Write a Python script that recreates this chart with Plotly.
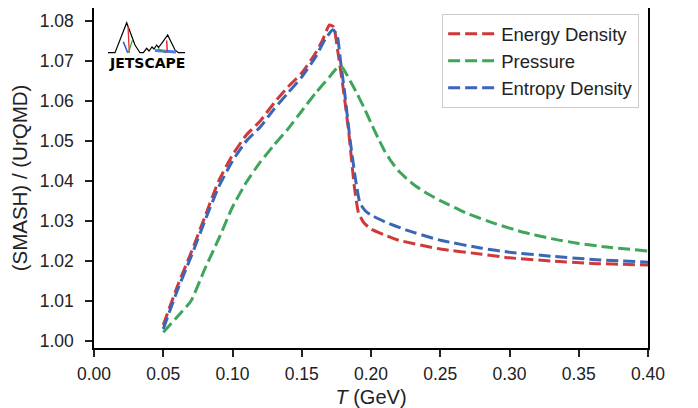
import plotly.graph_objects as go

# Ratio SMASH / UrQMD vs temperature
t_energy = [0.05, 0.06, 0.07, 0.08, 0.09, 0.10, 0.11, 0.12, 0.13, 0.14, 0.15, 0.16,
            0.165, 0.170, 0.173, 0.176, 0.180, 0.184, 0.188, 0.191, 0.195, 0.20,
            0.21, 0.22, 0.25, 0.28, 0.30, 0.33, 0.36, 0.40]
energy = [1.004, 1.0135, 1.022, 1.031, 1.040, 1.0465, 1.0515, 1.055, 1.0595, 1.0635,
          1.067, 1.072, 1.0752, 1.0790, 1.0785, 1.0725, 1.0630, 1.0520, 1.0385, 1.0320,
          1.0295, 1.028, 1.0265, 1.0252, 1.0230, 1.0217, 1.0208, 1.0200, 1.0194, 1.0190]

t_pressure = [0.05, 0.06, 0.07, 0.08, 0.09, 0.10, 0.11, 0.12, 0.13, 0.14, 0.15, 0.16,
              0.17, 0.176, 0.179, 0.185, 0.19, 0.195, 0.20, 0.205, 0.21, 0.215, 0.22,
              0.23, 0.24, 0.25, 0.27, 0.29, 0.31, 0.33, 0.35, 0.37, 0.40]
pressure = [1.0022, 1.006, 1.010, 1.018, 1.0255, 1.0335, 1.0397, 1.0447, 1.049, 1.053,
            1.0575, 1.062, 1.066, 1.0685, 1.0685, 1.065, 1.0618, 1.0583, 1.0545, 1.0508,
            1.0474, 1.0447, 1.0425, 1.0393, 1.0370, 1.0351, 1.0318, 1.0293, 1.0272,
            1.0256, 1.0244, 1.0235, 1.0225]

t_entropy = [0.05, 0.06, 0.07, 0.08, 0.09, 0.10, 0.11, 0.12, 0.13, 0.14, 0.15, 0.16,
             0.167, 0.1725, 0.1755, 0.178, 0.181, 0.185, 0.189, 0.192, 0.196, 0.20,
             0.21, 0.225, 0.25, 0.28, 0.30, 0.33, 0.36, 0.40]
entropy = [1.003, 1.0125, 1.021, 1.030, 1.0385, 1.045, 1.050, 1.0535, 1.058, 1.062,
           1.066, 1.071, 1.0755, 1.0778, 1.0765, 1.070, 1.062, 1.050, 1.040, 1.0345,
           1.0325, 1.0315, 1.0298, 1.0278, 1.0252, 1.0232, 1.0222, 1.0212, 1.0204, 1.0197]

x_ticks = [0.00, 0.05, 0.10, 0.15, 0.20, 0.25, 0.30, 0.35, 0.40]
y_ticks = [1.00, 1.01, 1.02, 1.03, 1.04, 1.05, 1.06, 1.07, 1.08]

RED = "#d0393b"
GREEN = "#3ea55a"
BLUE = "#3a66b8"
FONT = "Liberation Sans, Arial, sans-serif"

# figure size / plot area in pixels (page has an 8px body margin)
W, H = 690, 400
L, R, T, B = 86, 50, 0, 60
PW, PH = W - L - R, H - T - B
PAGE_OFF = 8


def to_paper(px, py):
    # page pixel -> paper coords
    fx, fy = px - PAGE_OFF, py - PAGE_OFF
    return (fx - L) / PW, (H - B - fy) / PH


def path_from(points):
    parts = []
    for i, (px, py) in enumerate(points):
        x, y = to_paper(px, py)
        parts.append(("M" if i == 0 else "L") + f"{x:.4f},{y:.4f}")
    return " ".join(parts)


fig = go.Figure()

series = [
    ("Energy Density", t_energy, energy, RED),
    ("Pressure", t_pressure, pressure, GREEN),
    ("Entropy Density", t_entropy, entropy, BLUE),
]
for name, xs, ys, color in series:
    fig.add_trace(go.Scatter(
        x=xs, y=ys, name=name, mode="lines", legendgroup=name,
        line=dict(color=color, width=3, dash="12px,5px", shape="spline", smoothing=0.5),
    ))

# JETSCAPE logo, drawn roughly
shapes = []
mountain = [(108, 52.7), (115, 52.7), (126.7, 22.7), (135, 45), (140, 52.7), (143.3, 52.7),
            (146.7, 48.3), (149, 51), (152, 47), (154, 49), (156.7, 45), (158.5, 47.5),
            (161.7, 43.3), (167.7, 35), (171.7, 43.3), (175, 50), (178.3, 52.7), (185, 52.7)]
shapes.append(dict(type="path", xref="paper", yref="paper", path=path_from(mountain),
                   line=dict(color="black", width=1.2)))
for pts, col, wd in [
    ([(128, 26), (129.3, 52.7)], "#e03030", 1.3),
    ([(123.3, 41.7), (127.7, 52.7)], "#3050e0", 1.5),
    ([(132.7, 39.3), (128.5, 52.7)], "#30a030", 1.2),
    ([(155, 50.5), (176, 52)], "#5078f0", 3),
    ([(158, 48.5), (166, 53)], "#30a030", 1.2),
    ([(166.7, 40.5), (167.3, 52.7)], "#e03030", 1.5),
]:
    shapes.append(dict(type="path", xref="paper", yref="paper", path=path_from(pts),
                       line=dict(color=col, width=wd)))

lx, ly = to_paper(146.5, 63.5)
fig.add_annotation(xref="paper", yref="paper", x=lx, y=ly, text="<b>JETSCAPE</b>",
                   showarrow=False, xanchor="center", yanchor="middle",
                   font=dict(family="DejaVu Sans", size=14, color="black"))

axis_common = dict(
    showline=True, linecolor="black", linewidth=1.5, mirror=True,
    ticks="outside", ticklen=7, tickwidth=1.5, tickcolor="#222",
    showgrid=False, zeroline=False,
    tickfont=dict(family=FONT, size=17.5, color="#222"),
)

fig.update_layout(
    width=W, height=H,
    margin=dict(l=L, r=R, t=T, b=B, autoexpand=False),
    plot_bgcolor="white", paper_bgcolor="white",
    shapes=shapes,
    showlegend=True,
    legend=dict(
        x=0.984, y=0.982, xanchor="right", yanchor="top",
        bgcolor="white", bordercolor="#cccccc", borderwidth=1,
        font=dict(family=FONT, size=18.5, color="#222"),
        tracegroupgap=0, itemwidth=48,
    ),
    xaxis=dict(
        range=[0, 0.4], tickvals=x_ticks, ticktext=[f"{v:.2f}" for v in x_ticks],
        ticklabelstandoff=2,
        title=dict(text="<i>T</i> (GeV)", font=dict(family=FONT, size=20, color="#222"),
                   standoff=10),
        **axis_common,
    ),
    yaxis=dict(
        range=[0.99825, 1.08325], tickvals=y_ticks, ticktext=[f"{v:.2f}" for v in y_ticks],
        ticklabelstandoff=8,
        title=dict(text="(SMASH) / (UrQMD)", font=dict(family=FONT, size=20.5, color="#222"),
                   standoff=7),
        **axis_common,
    ),
)

fig.write_html("out.html")
